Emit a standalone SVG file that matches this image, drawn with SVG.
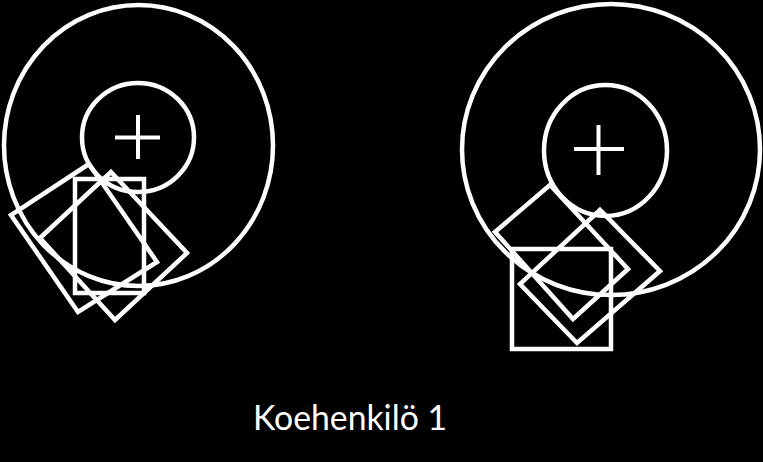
<svg xmlns="http://www.w3.org/2000/svg" width="763" height="462" viewBox="0 0 763 462">
  <style>
    .s { fill: none; stroke: #ffffff; stroke-width: 4.5; stroke-linejoin: miter; }
    .p { stroke: #ffffff; stroke-width: 4; }
    .t { fill: #ffffff; font-family: Lato, "Open Sans", "Liberation Sans", sans-serif; font-size: 34px; }
  </style>
  <rect x="0" y="0" width="763" height="462" fill="#000000"/>
  <g id="left-figure">
    <ellipse class="s" cx="138.5" cy="145.5" rx="134.5" ry="140.5"/>
    <ellipse class="s" cx="138" cy="137.5" rx="56" ry="54.5"/>
    <line class="p" x1="115" y1="137.5" x2="160" y2="137.5"/>
    <line class="p" x1="138" y1="115" x2="138" y2="159"/>
    <polygon class="s" points="89,164 11,215 78,312 157,262"/>
    <polygon class="s" points="111,172 187,253 115,320 40,238"/>
    <rect class="s" x="75" y="179" width="69" height="114"/>
  </g>
  <g id="right-figure">
    <ellipse class="s" cx="611" cy="149.5" rx="149" ry="145.5"/>
    <ellipse class="s" cx="605.5" cy="150.5" rx="61.5" ry="65.5"/>
    <line class="p" x1="574" y1="149" x2="624" y2="149"/>
    <line class="p" x1="598.5" y1="125" x2="598.5" y2="175"/>
    <polygon class="s" points="550,185 495,232 573,319 628,269"/>
    <polygon class="s" points="600,210 520,284 577,343 660,271"/>
    <rect class="s" x="512" y="249" width="99" height="100"/>
  </g>
  <g id="caption">
    <text class="t" x="253" y="430" textLength="194" lengthAdjust="spacingAndGlyphs">Koehenkilö 1</text>
  </g>
</svg>
